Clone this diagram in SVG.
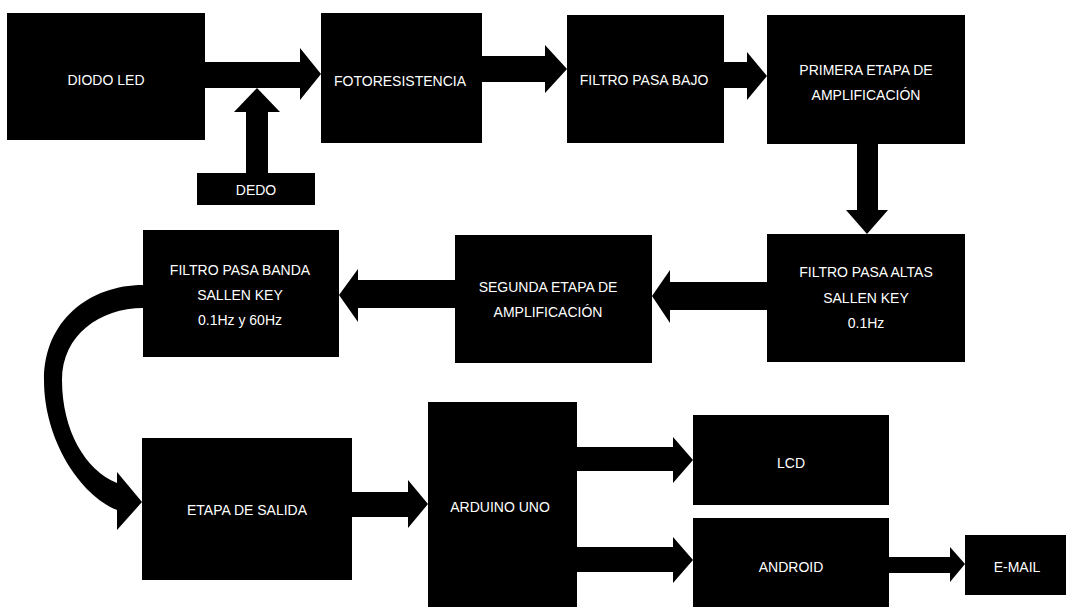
<svg xmlns="http://www.w3.org/2000/svg" width="1068" height="609" viewBox="0 0 1068 609">
  <style>
    .box { fill: #000; }
    .lbl { fill: #fff; font-family: "Liberation Sans", Arial, sans-serif; font-size: 14px; text-anchor: middle; }
    .conn { fill: #000; }
  </style>
  <rect width="1068" height="609" fill="#fff"/>

  <!-- block arrows between stages -->
  <g id="connectors">
    <polygon class="conn" points="205,62 300,62 300,48 321,74 300,100 300,88 205,88"/>
    <polygon class="conn" points="246,173 246,112 234,112 257,88 280,112 268,112 268,173"/>
    <polygon class="conn" points="482,56 545,56 545,45 567,69 545,93 545,82 482,82"/>
    <polygon class="conn" points="724,62 747,62 747,52 767,76 747,100 747,88 724,88"/>
    <polygon class="conn" points="857,144 878,144 878,210 888,210 867,234 846,210 857,210"/>
    <polygon class="conn" points="767,282 670,282 670,270 652,296 670,323 670,310 767,310"/>
    <polygon class="conn" points="455,280 358,280 358,269 339,295 358,322 358,308 455,308"/>
    <path class="conn" d="M143,285 C90,285 44,320 44,380 C44,440 80,495 117,510 L117,530 L142,502 L117,472 L117,483 C85,470 62,430 62,380 C62,335 100,308 143,308 Z"/>
    <polygon class="conn" points="352,492 408,492 408,480 428,504 408,528 408,517 352,517"/>
    <polygon class="conn" points="577,447 673,447 673,437 693,460 673,483 673,471 577,471"/>
    <polygon class="conn" points="577,547 673,547 673,537 693,560 673,583 673,572 577,572"/>
    <polygon class="conn" points="889,557 950,557 950,547 965,564 950,582 950,573 889,573"/>
  </g>

  <g id="diodo-led">
    <rect class="box" x="7" y="13" width="198" height="127"/>
    <text class="lbl" x="106" y="85">DIODO LED</text>
  </g>
  <g id="dedo">
    <rect class="box" x="197" y="173" width="118" height="32"/>
    <text class="lbl" x="256" y="195">DEDO</text>
  </g>
  <g id="fotoresistencia">
    <rect class="box" x="321" y="13" width="161" height="130"/>
    <text class="lbl" x="400" y="86">FOTORESISTENCIA</text>
  </g>
  <g id="filtro-pasa-bajo">
    <rect class="box" x="567" y="15" width="157" height="128"/>
    <text class="lbl" x="644" y="85">FILTRO PASA BAJO</text>
  </g>
  <g id="primera-etapa">
    <rect class="box" x="767" y="15" width="198" height="129"/>
    <text class="lbl" x="866" y="75">PRIMERA ETAPA DE</text>
    <text class="lbl" x="866" y="100">AMPLIFICACIÓN</text>
  </g>
  <g id="filtro-pasa-altas">
    <rect class="box" x="767" y="234" width="198" height="128"/>
    <text class="lbl" x="866" y="277">FILTRO PASA ALTAS</text>
    <text class="lbl" x="866" y="303">SALLEN KEY</text>
    <text class="lbl" x="866" y="328">0.1Hz</text>
  </g>
  <g id="segunda-etapa">
    <rect class="box" x="455" y="235" width="197" height="128"/>
    <text class="lbl" x="548" y="292">SEGUNDA ETAPA DE</text>
    <text class="lbl" x="548" y="317">AMPLIFICACIÓN</text>
  </g>
  <g id="filtro-pasa-banda">
    <rect class="box" x="143" y="230" width="196" height="127"/>
    <text class="lbl" x="240" y="275">FILTRO PASA BANDA</text>
    <text class="lbl" x="240" y="300">SALLEN KEY</text>
    <text class="lbl" x="240" y="325">0.1Hz y 60Hz</text>
  </g>
  <g id="etapa-salida">
    <rect class="box" x="142" y="438" width="210" height="142"/>
    <text class="lbl" x="247" y="515">ETAPA DE SALIDA</text>
  </g>
  <g id="arduino-uno">
    <rect class="box" x="428" y="402" width="149" height="205"/>
    <text class="lbl" x="500" y="512">ARDUINO UNO</text>
  </g>
  <g id="lcd">
    <rect class="box" x="693" y="415" width="196" height="90"/>
    <text class="lbl" x="791" y="468">LCD</text>
  </g>
  <g id="android">
    <rect class="box" x="693" y="518" width="196" height="89"/>
    <text class="lbl" x="791" y="572">ANDROID</text>
  </g>
  <g id="email">
    <rect class="box" x="965" y="535" width="101" height="60"/>
    <text class="lbl" x="1017" y="572">E-MAIL</text>
  </g>
</svg>
